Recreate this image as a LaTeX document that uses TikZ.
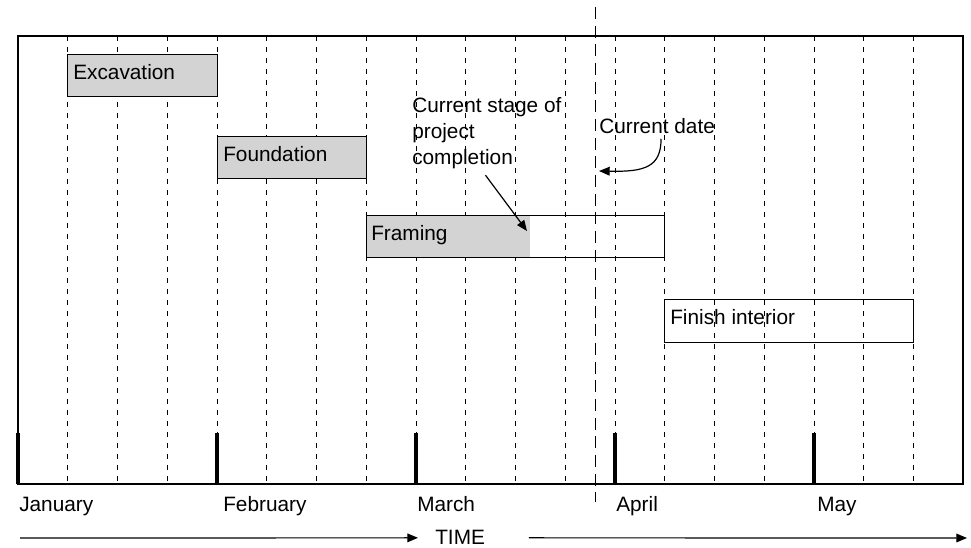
\documentclass[tikz,border=0pt]{standalone}
\usepackage{fontspec}
\setmainfont{Liberation Sans}
\usetikzlibrary{arrows.meta}
\definecolor{barfill}{RGB}{211,211,211}

\begin{document}
\begin{tikzpicture}[x=0.75pt,y=0.75pt,yscale=-1,xscale=1,
  font=\fontsize{15.6}{19.5}\selectfont,
  week/.style={line width=0.75pt, dash pattern=on 3.75pt off 4.5pt},
  today/.style={line width=0.75pt, dash pattern=on 9pt off 5pt},
  bar/.style={draw, line width=0.75pt},
  label/.style={anchor=base west, inner sep=0.75pt},
  arr/.style={line width=0.9pt, -{Triangle[length=8pt,width=6.5pt]}}]
%set diagram size
\useasboundingbox (0,0) rectangle (971,548);

%Dashed week lines
\foreach \k in {1,...,18}
  \draw [week] ({18+49.75*\k},36) -- ({18+49.75*\k},484);

%Current date line
\draw [today] (595.7,7) -- (595.7,502);

%Bars
\draw [bar, fill=barfill] (67.7,55) rectangle (217,97);
\draw [bar, fill=barfill] (217,137) rectangle (366,179);
\fill [barfill] (366,216) rectangle (530,258);
\draw [bar] (366,216) rectangle (664,258);
\draw [bar] (664,300) rectangle (913,342.5);

%Frame
\draw [line width=1pt] (18,36) rectangle (963,484);

%Month ticks
\foreach \m in {0,...,4}
  \draw [line width=3pt] ({18+199*\m},433) -- ({18+199*\m},484);

% Text Node
\node [label] (exc) at (72,79.3) {Excavation};
% Text Node
\node [label] (fnd) at (222,161.7) {Foundation};
% Text Node
\node [label] (frm) at (370,240.7) {Framing};
% Text Node
\node [label] (fin) at (669,325) {Finish interior};
% Text Node
\node [anchor=north west, inner sep=0.75pt, align=left] (stage) at (411,96) {Current stage of\\project\\completion};
% Text Node
\node [label] (curdate) at (598,133.3) {Current date};

% Month labels
\node [label] (jan) at (18,511.7) {January};
\node [label] (feb) at (222,511.7) {February};
\node [label] (mar) at (416,511.7) {March};
\node [label] (apr) at (615,511.7) {April};
\node [label] (may) at (816,511.7) {May};
\node [label] (time) at (434,545) {TIME};

%Arrows
\coordinate (progress) at (527,231);
\coordinate (now) at (599,171);
\coordinate (tstart) at (20,538);
\coordinate (tend) at (967,538);
\draw [arr] ([xshift=-1pt,yshift=4pt]stage.south) -- (progress);
\draw [arr] ([xshift=3pt,yshift=3pt]curdate.south) .. controls (661,167) and (645,172) .. (now);
\draw [arr] (tstart) -- ([xshift=-12pt]time.west);
\draw [arr] ([xshift=32pt]time.east) -- (tend);

\end{tikzpicture}
\end{document}
